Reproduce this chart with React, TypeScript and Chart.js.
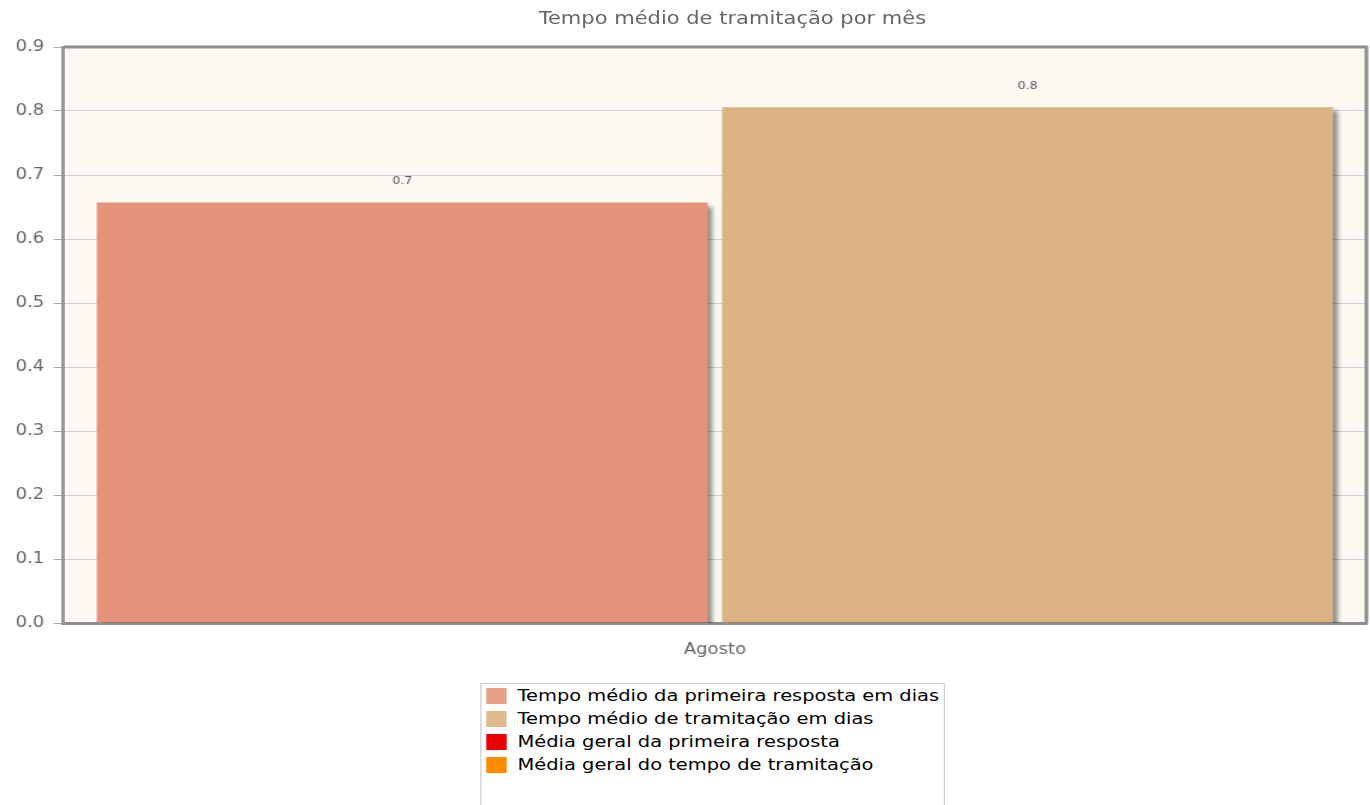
import React, { useEffect, useRef } from 'react';
import { Chart, registerables } from 'chart.js';

Chart.register(...registerables);

// ---- data ----
const chartTitle = 'Tempo médio de tramitação por mês';
const categories = ['Agosto'];
const primeiraRespostaDias = [0.657];
const tramitacaoDias = [0.806];
const mediaGeralPrimeira: (number | null)[] = [null];
const mediaGeralTramitacao: (number | null)[] = [null];
const seriesNames = [
  'Tempo médio da primeira resposta em dias',
  'Tempo médio de tramitação em dias',
  'Média geral da primeira resposta',
  'Média geral do tempo de tramitação',
];
const seriesColors = ['#E5937A', '#DBB382', '#EE0000', '#FF8A00'];
const yMin = 0;
const yMax = 0.9;
const yStep = 0.1;

// ---- layout ----
const FONT = '"DejaVu Sans", Verdana, sans-serif';
const INNER_W = 1141;
const STRETCH = 1370 / INNER_W;

const plotFrame = {
  id: 'plotFrame',
  beforeDraw(chart: any) {
    const { ctx, chartArea: a } = chart;
    ctx.save();
    ctx.fillStyle = '#FDFAF3';
    ctx.fillRect(a.left, a.top, a.right - a.left, a.bottom - a.top);
    ctx.restore();
  },
  afterDraw(chart: any) {
    const { ctx, chartArea: a } = chart;
    ctx.save();
    ctx.strokeStyle = '#8C8C8C';
    ctx.lineWidth = 3;
    ctx.beginPath();
    ctx.moveTo(a.left, a.top);
    ctx.lineTo(a.right, a.top);
    ctx.lineTo(a.right, a.bottom);
    ctx.stroke();
    ctx.restore();
  },
};

const barShadow = {
  id: 'barShadow',
  beforeDatasetDraw(chart: any, args: any) {
    const ds = chart.data.datasets[args.index];
    if (ds.type === 'line') return;
    const ctx = chart.ctx;
    ctx.save();
    ctx.shadowColor = 'rgba(0,0,0,0.45)';
    ctx.shadowOffsetX = 4;
    ctx.shadowOffsetY = 4;
    ctx.shadowBlur = 4;
    (chart as any).$shadowSaved = true;
  },
  afterDatasetDraw(chart: any) {
    if ((chart as any).$shadowSaved) {
      chart.ctx.restore();
      (chart as any).$shadowSaved = false;
    }
  },
};

const valueLabels = {
  id: 'valueLabels',
  afterDatasetsDraw(chart: any) {
    const ctx = chart.ctx;
    ctx.save();
    ctx.font = `10.5px ${FONT}`;
    ctx.fillStyle = '#555';
    ctx.textAlign = 'center';
    ctx.textBaseline = 'middle';
    chart.data.datasets.forEach((ds: any, i: number) => {
      if (ds.type === 'line') return;
      const meta = chart.getDatasetMeta(i);
      meta.data.forEach((el: any, j: number) => {
        const v = ds.data[j];
        if (v == null) return;
        ctx.fillText(Number(v).toFixed(1), el.x, el.y - 21);
      });
    });
    ctx.restore();
  },
};

export default function App() {
  const canvasRef = useRef<HTMLCanvasElement | null>(null);

  useEffect(() => {
    if (!canvasRef.current) return;
    const chart = new Chart(canvasRef.current, {
      type: 'bar',
      data: {
        labels: categories,
        datasets: [
          { type: 'bar', label: seriesNames[0], data: primeiraRespostaDias, backgroundColor: seriesColors[0], borderWidth: 0 },
          { type: 'bar', label: seriesNames[1], data: tramitacaoDias, backgroundColor: seriesColors[1], borderWidth: 0 },
          { type: 'line', label: seriesNames[2], data: mediaGeralPrimeira, borderColor: seriesColors[2], backgroundColor: seriesColors[2], pointRadius: 0 },
          { type: 'line', label: seriesNames[3], data: mediaGeralTramitacao, borderColor: seriesColors[3], backgroundColor: seriesColors[3], pointRadius: 0 },
        ] as any,
      },
      options: {
        animation: false,
        responsive: true,
        maintainAspectRatio: false,
        layout: { padding: { left: 5, right: 3, top: 47, bottom: 3 } },
        datasets: { bar: { categoryPercentage: 0.96, barPercentage: 0.977 } } as any,
        plugins: {
          legend: { display: false },
          tooltip: { enabled: false },
          title: { display: false },
        },
        scales: {
          x: {
            grid: { display: false, drawTicks: false },
            border: { display: true, color: '#8C8C8C', width: 3 },
            ticks: { color: '#666', font: { family: FONT, size: 15 }, padding: 18 },
          },
          y: {
            min: yMin,
            max: yMax,
            ticks: {
              stepSize: yStep,
              callback: (v: any) => Number(v).toFixed(1),
              color: '#666',
              font: { family: FONT, size: 15 },
              padding: 8,
            },
            grid: { color: '#D2D2D2', tickLength: 8, tickColor: '#AAA' },
            border: { display: true, color: '#999', width: 3 },
          },
        },
      } as any,
      plugins: [plotFrame, barShadow, valueLabels],
    });
    return () => chart.destroy();
  }, []);

  return (
    <div
      style={{
        position: 'absolute',
        left: 0,
        top: 0,
        width: INNER_W,
        height: 805,
        overflow: 'hidden',
        transform: `scaleX(${STRETCH})`,
        transformOrigin: '0 0',
        background: '#fff',
      }}
    >
      <div style={{ position: 'relative', width: INNER_W, height: 680 }}>
        <canvas ref={canvasRef} />
      </div>
      <div
        style={{
          position: 'absolute',
          left: 0,
          top: 7,
          width: 1220,
          textAlign: 'center',
          fontFamily: FONT,
          fontSize: 17.5,
          lineHeight: '22px',
          color: '#666',
          whiteSpace: 'nowrap',
        }}
      >
        {chartTitle}
      </div>
      <div
        style={{
          position: 'absolute',
          left: 400,
          top: 683,
          width: 387,
          height: 140,
          border: '1px solid #CCC',
          boxSizing: 'border-box',
          fontFamily: FONT,
          fontSize: 16.2,
          color: '#000',
        }}
      >
        {seriesNames.map((name, i) => (
          <div key={name} style={{ display: 'flex', alignItems: 'center', height: 23, whiteSpace: 'nowrap' }}>
            <span
              style={{
                display: 'inline-block',
                width: 17,
                height: 16,
                marginLeft: 4,
                marginRight: 9,
                background: seriesColors[i],
                opacity: i < 2 ? 0.9 : 1,
              }}
            />
            <span>{name}</span>
          </div>
        ))}
      </div>
    </div>
  );
}
